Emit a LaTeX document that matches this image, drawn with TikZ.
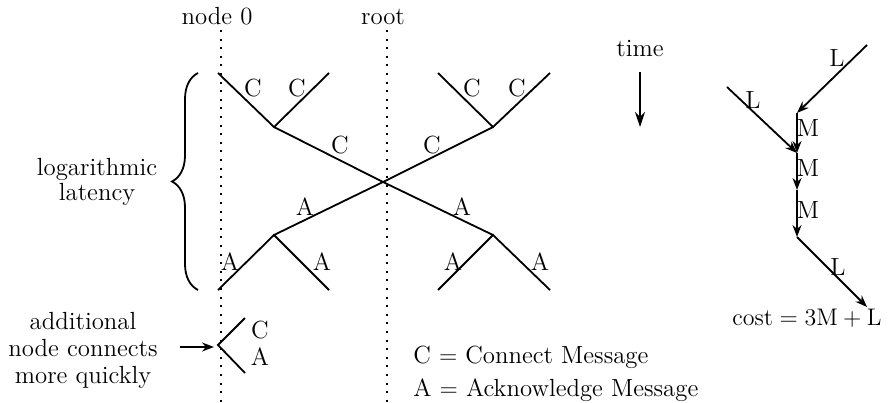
\documentclass[tikz,border=0pt]{standalone}
\usetikzlibrary{arrows.meta,decorations.pathreplacing}
\begin{document}
\begin{tikzpicture}[x=0.5pt,y=-0.5pt,
  every node/.style={font=\fontsize{12.4}{14}\selectfont, inner sep=0pt},
  msg/.style={line width=0.9pt},
  timeline/.style={line width=1pt, dash pattern=on 1pt off 3.3pt},
  arr/.style={line width=0.9pt, -{Stealth[length=6pt,width=4.5pt,inset=2pt]}},
  bigarr/.style={line width=0.9pt, -{Stealth[length=7.5pt,width=5pt,inset=2.5pt]}}]
\useasboundingbox (0,0) rectangle (893,402);

% process timelines
\node (n0) at (217,16) {node 0};
\node (rt) at (383,17) {root};
\coordinate (n0top) at (221,30);
\coordinate (rttop) at (387,30);
\coordinate (n0bot) at (221,402);
\coordinate (rtbot) at (387,402);
\draw[timeline] (n0top) -- (n0bot);
\draw[timeline] (rttop) -- (rtbot);

% time direction
\node (tm) at (640,49) {time};
\coordinate (tmA) at (640,72);
\coordinate (tmB) at (640,127);
\draw[bigarr] (tmA) -- (tmB);

% connect phase (upper half)
\coordinate (X) at (383,182);
\coordinate (LTa) at (218,73);
\coordinate (LTb) at (329,73);
\coordinate (LTj) at (274,127);
\coordinate (RTa) at (438,73);
\coordinate (RTb) at (550,73);
\coordinate (RTj) at (493,127);
\draw[msg] (LTa) -- (LTj) -- (LTb);
\draw[msg] (LTj) -- (X);
\draw[msg] (RTa) -- (RTj) -- (RTb);
\draw[msg] (RTj) -- (X);
\node (c1) at (253,88) {C};
\node (c2) at (297,88) {C};
\node (c3) at (340,145) {C};
\node (c4) at (432,145) {C};
\node (c5) at (472,88) {C};
\node (c6) at (517,88) {C};

% acknowledge phase (lower half)
\coordinate (LBj) at (274,235);
\coordinate (LBa) at (218,290);
\coordinate (LBb) at (329,290);
\coordinate (RBj) at (493,235);
\coordinate (RBa) at (438,290);
\coordinate (RBb) at (550,290);
\draw[msg] (X) -- (LBj);
\draw[msg] (LBa) -- (LBj) -- (LBb);
\draw[msg] (X) -- (RBj);
\draw[msg] (RBa) -- (RBj) -- (RBb);
\node (a1) at (305,207) {A};
\node (a2) at (462,207) {A};
\node (a3) at (230,262) {A};
\node (a4) at (322,262) {A};
\node (a5) at (453,262) {A};
\node (a6) at (540,262) {A};

% latency brace
\coordinate (brB) at (198,290);
\coordinate (brT) at (198,73);
\draw[line width=0.9pt, decorate, decoration={brace, amplitude=13pt, aspect=0.5}] (brB) -- (brT);
\node[align=center, font=\fontsize{12.4}{11}\selectfont] (lat) at (97,182) {logarithmic\\latency};

% extra node joining directly
\coordinate (Ev) at (218,345);
\coordinate (Ec) at (245,318);
\coordinate (Ea) at (245,373);
\draw[msg] (Ec) -- (Ev) -- (Ea);
\node (ec) at (260,330) {C};
\node (ea) at (260,357) {A};
\node[align=center, font=\fontsize{12.4}{13.5}\selectfont] (add) at (83,350) {additional\\node connects\\more quickly};
\coordinate (eA) at (180,347);
\coordinate (eB) at (214,347);
\draw[arr] (eA) -- (eB);

% legend
\node[anchor=west] (legC) at (413,357) {C $=$ Connect Message};
\node[anchor=west] (legA) at (413,390) {A $=$ Acknowledge Message};

% cost of a single combining step
\coordinate (P1) at (867,45);
\coordinate (P2) at (797,113);
\coordinate (P0) at (727,87);
\coordinate (P3) at (797,153);
\coordinate (P4) at (797,190);
\coordinate (P5) at (797,237);
\coordinate (P6) at (867,307);
\draw[arr] (P1) -- (P2);
\draw[arr] (P0) -- (P3);
\draw[arr] (P2) -- (P3);
\draw[arr] (P3) -- (P4);
\draw[arr] (P4) -- (P5);
\draw[arr] (P5) -- (P6);
\node (l1) at (837,58) {L};
\node (l2) at (753,100) {L};
\node (m1) at (808,128) {M};
\node (m2) at (808,168) {M};
\node (m3) at (808,210) {M};
\node (l3) at (838,267) {L};
\node (cost) at (807,318) {$\mathrm{cost} = 3\mathrm{M} + \mathrm{L}$};
\end{tikzpicture}
\end{document}
